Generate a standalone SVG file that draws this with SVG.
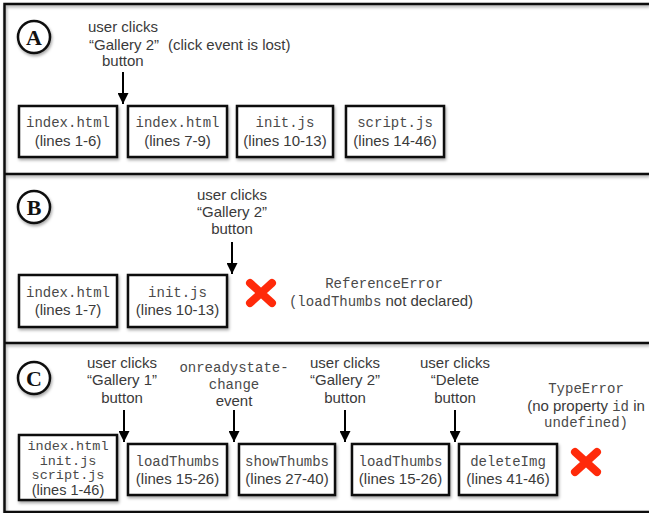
<svg xmlns="http://www.w3.org/2000/svg" width="649" height="513" viewBox="0 0 649 513">
<defs>
<filter id="sh" x="-10%" y="-10%" width="130%" height="140%">
<feDropShadow dx="1" dy="2" stdDeviation="1.5" flood-color="#000" flood-opacity="0.35"/>
</filter>
<marker id="ah" markerWidth="11" markerHeight="11" refX="10" refY="5" orient="auto" markerUnits="userSpaceOnUse" viewBox="0 0 10 10">
<path d="M0,0 L10,5 L0,10 Z" fill="#000"/>
</marker>
<g id="redx">
<path d="M-11,-10 L11,10 M11,-10 L-11,10" stroke="#ff2a0a" stroke-width="8" stroke-linecap="round"/>
</g>
<style>
.box{fill:#fff;stroke:#111;stroke-width:2.5;filter:url(#sh)}
.mono{font-family:"Liberation Mono","DejaVu Sans Mono",monospace;font-size:14px;fill:#4a4a4a;text-anchor:middle}
.sans{font-family:"Liberation Sans",Arial,sans-serif;font-size:15px;fill:#3a3a3a;text-anchor:middle}
.monoi{font-family:"Liberation Mono","DejaVu Sans Mono",monospace;font-size:14px;fill:#4a4a4a}
.frame{stroke:#111;stroke-width:2.5;fill:none}
.circ{fill:#fff;stroke:#111;stroke-width:2.5;filter:url(#sh)}
.let{font-family:"Liberation Serif","Times New Roman",serif;font-size:22px;font-weight:bold;fill:#111;text-anchor:middle}
.arr{stroke:#000;stroke-width:2;fill:none;marker-end:url(#ah)}
</style>
</defs>
<rect width="649" height="513" fill="#fff"/>
<g id="frame" filter="url(#sh)">
<path class="frame" d="M649,4 H4.5 V512 H649 M4.5,174 H649 M4.5,343 H649"/>
</g>

<!-- Panel A -->
<g id="labelA"><circle class="circ" cx="34" cy="37" r="16"/><text class="let" x="34" y="45">A</text></g>
<g id="noteA">
<text class="sans" style="text-anchor:start" x="88" y="32">user clicks</text>
<text class="sans" style="text-anchor:start" x="89" y="50">“Gallery 2”<tspan x="168">(click event is lost)</tspan></text>
<text class="sans" style="text-anchor:start" x="102" y="66">button</text>
</g>
<g id="A1"><rect class="box" x="19" y="106" width="98" height="51"/><text class="mono" x="68" y="127">index.html</text><text class="sans" x="68" y="146">(lines 1-6)</text></g>
<g id="A2"><rect class="box" x="128" y="106" width="99" height="51"/><text class="mono" x="177.5" y="127">index.html</text><text class="sans" x="177.5" y="146">(lines 7-9)</text></g>
<g id="A3"><rect class="box" x="237" y="106" width="96" height="51"/><text class="mono" x="285" y="127">init.js</text><text class="sans" x="285" y="146">(lines 10-13)</text></g>
<g id="A4"><rect class="box" x="346" y="106" width="98" height="51"/><text class="mono" x="395" y="127">script.js</text><text class="sans" x="395" y="146">(lines 14-46)</text></g>

<!-- Panel B -->
<g id="labelB"><circle class="circ" cx="34" cy="207" r="16"/><text class="let" x="34" y="215">B</text></g>
<g id="noteB">
<text class="sans" x="232" y="200">user clicks</text>
<text class="sans" x="232" y="217">“Gallery 2”</text>
<text class="sans" x="232" y="234">button</text>
</g>
<g id="B1"><rect class="box" x="19" y="275" width="98" height="52"/><text class="mono" x="68" y="297">index.html</text><text class="sans" x="68" y="315">(lines 1-7)</text></g>
<g id="B2"><rect class="box" x="128" y="275" width="99" height="52"/><text class="mono" x="177.5" y="297">init.js</text><text class="sans" x="177.5" y="315">(lines 10-13)</text></g>
<g id="errB">
<use href="#redx" x="261" y="293"/>
<text class="mono" x="384" y="288">ReferenceError</text>
<text class="sans" x="381" y="306"><tspan class="monoi">(loadThumbs</tspan> not declared)</text>
</g>

<!-- Panel C -->
<g id="labelC"><circle class="circ" cx="34" cy="378" r="16"/><text class="let" x="34" y="386">C</text></g>
<g id="noteC1">
<text class="sans" x="122" y="368">user clicks</text>
<text class="sans" x="122" y="385">“Gallery 1”</text>
<text class="sans" x="122" y="403">button</text>
</g>
<g id="noteC2">
<text class="mono" x="234" y="372">onreadystate-</text>
<text class="mono" x="234" y="389">change</text>
<text class="sans" x="234" y="406">event</text>
</g>
<g id="noteC3">
<text class="sans" x="345" y="368">user clicks</text>
<text class="sans" x="345" y="385">“Gallery 2”</text>
<text class="sans" x="345" y="403">button</text>
</g>
<g id="noteC4">
<text class="sans" x="455" y="368">user clicks</text>
<text class="sans" x="455" y="385">“Delete</text>
<text class="sans" x="455" y="403">button</text>
</g>
<g id="C1"><rect class="box" x="19" y="435" width="98" height="65"/>
<text class="mono" style="font-size:13.5px" x="68" y="450">index.html</text><text class="mono" style="font-size:13.5px" x="68" y="464.5">init.js</text><text class="mono" style="font-size:13.5px" x="68" y="479">script.js</text><text class="sans" style="font-size:14.5px" x="68" y="494.5">(lines 1-46)</text></g>
<g id="C2"><rect class="box" x="128" y="444" width="99" height="51"/><text class="mono" x="177.5" y="466">loadThumbs</text><text class="sans" x="177.5" y="484">(lines 15-26)</text></g>
<g id="C3"><rect class="box" x="239" y="444" width="96" height="51"/><text class="mono" x="287" y="466">showThumbs</text><text class="sans" x="287" y="484">(lines 27-40)</text></g>
<g id="C4"><rect class="box" x="352" y="444" width="97" height="51"/><text class="mono" x="400.5" y="466">loadThumbs</text><text class="sans" x="400.5" y="484">(lines 15-26)</text></g>
<g id="C5"><rect class="box" x="459" y="444" width="98" height="51"/><text class="mono" x="508" y="466">deleteImg</text><text class="sans" x="508" y="484">(lines 41-46)</text></g>
<g id="errC">
<text class="mono" x="586" y="393">TypeError</text>
<text class="sans" x="586" y="411">(no property <tspan class="monoi">id</tspan> in</text>
<text class="mono" x="586" y="427">undefined)</text>
<use href="#redx" x="586" y="462"/>
</g>

<g id="connectors">
<line class="arr" x1="123" y1="72" x2="123" y2="104"/>
<line class="arr" x1="232" y1="242" x2="232" y2="274"/>
<line class="arr" x1="124" y1="410" x2="124" y2="442"/>
<line class="arr" x1="234" y1="410" x2="234" y2="442"/>
<line class="arr" x1="345" y1="410" x2="345" y2="442"/>
<line class="arr" x1="455" y1="410" x2="455" y2="442"/>
</g>
</svg>
